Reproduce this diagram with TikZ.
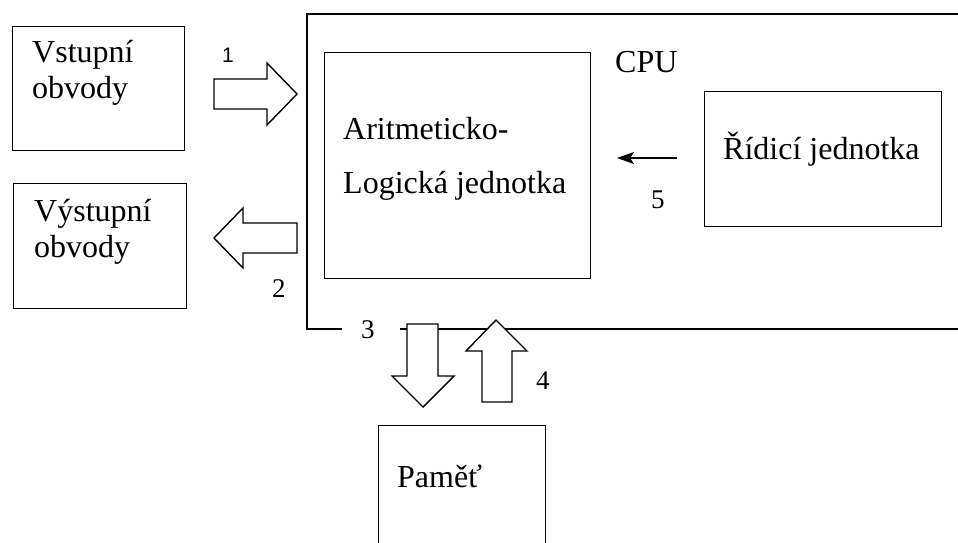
\documentclass[tikz,border=0pt]{standalone}
\usepackage{fontspec}
\setmainfont{Liberation Serif}
\newfontfamily\labelsans{Liberation Sans}
\usetikzlibrary{arrows.meta}
\begin{document}
\begin{tikzpicture}[x=1pt,y=-1pt,
  ink/.style={draw=black,line width=1.4pt},
  box/.style={ink,rectangle,inner sep=0pt,anchor=north west},
  blockarrow/.style={ink,fill=white,line join=miter},
  txt/.style={inner sep=0pt,anchor=base west,font=\fontsize{32}{38}\selectfont},
  num/.style={inner sep=0pt,anchor=base west,font=\fontsize{27}{32}\selectfont},
]
\useasboundingbox (0,0) rectangle (958,543);
\clip (0,0) rectangle (958,543);

% outer CPU frame (open to the right, gap in the bottom edge for label 3)
\draw[ink] (970,14) -- (307,14) -- (307,329) -- (342,329);
\draw[ink] (400,329) -- (970,329);

% blocks
\node[box,minimum width=172,minimum height=124] (vin)    at (12,26)   {};
\node[box,minimum width=173,minimum height=125] (vout)   at (13,183)  {};
\node[box,minimum width=266,minimum height=226] (alu)    at (324,52)  {};
\node[box,minimum width=237,minimum height=135] (ridici) at (704,91)  {};
\node[box,minimum width=167,minimum height=150] (pamet)  at (378,425) {};

% block texts
\node[txt] (tvin1)  at (32,63)   {Vstupní};
\node[txt] (tvin2)  at (32,99)   {obvody};
\node[txt] (tvout1) at (34,221)  {Výstupní};
\node[txt] (tvout2) at (34,257)  {obvody};
\node[txt] (talu1)  at (343,139) {Aritmeticko-};
\node[txt] (talu2)  at (343,193) {Logická jednotka};
\node[txt] (tcpu)   at (615,73)  {CPU};
\node[txt] (trid)   at (723,159) {Řídicí jednotka};
\node[txt] (tpam)   at (397,487) {Paměť};

% block arrows
\draw[blockarrow] (214,79) -- (267,79) -- (267,63) -- (297,94)
  -- (267,125) -- (267,109) -- (214,109) -- cycle;
\draw[blockarrow] (297,223) -- (243,223) -- (243,208) -- (214,238)
  -- (243,268) -- (243,253) -- (297,253) -- cycle;
\draw[blockarrow] (407,324) -- (438,324) -- (438,376) -- (454,376)
  -- (423,407) -- (392,376) -- (407,376) -- cycle;
\draw[blockarrow] (482,402) -- (482,351) -- (466,351) -- (496,320)
  -- (527,351) -- (512,351) -- (512,402) -- cycle;

% control signal arrow
\coordinate (c5s) at (677,158);
\coordinate (c5e) at (617,158);
\draw[draw=black,line width=1.3pt,-{Stealth[length=17pt,width=12pt,inset=4pt]}] (c5s) -- (c5e);

% arrow numbers
\node[inner sep=0pt,anchor=base west,font=\labelsans\fontsize{21}{25}\selectfont] (n1) at (222,63) {1};
\node[num] (n2) at (272,297) {2};
\node[num] (n3) at (361,338) {3};
\node[num] (n4) at (536,389) {4};
\node[num] (n5) at (651,208) {5};
\end{tikzpicture}
\end{document}
